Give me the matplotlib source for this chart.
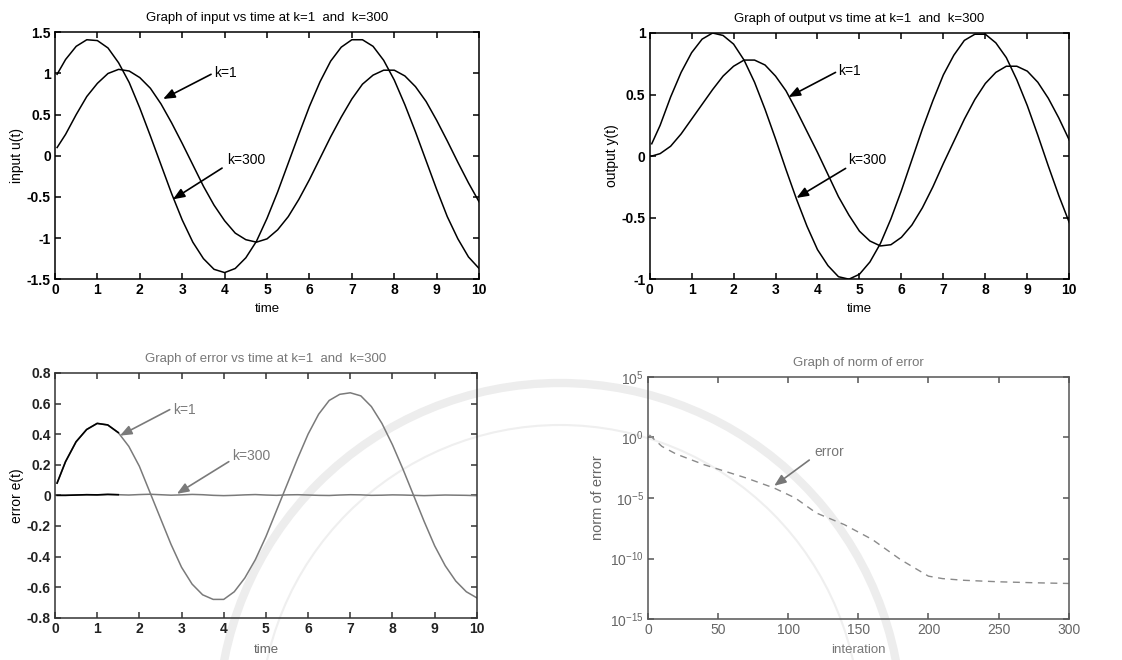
import matplotlib
matplotlib.use("Agg")
import matplotlib.pyplot as plt
from matplotlib.patches import Circle

plt.rcParams["font.family"] = ["Liberation Sans Narrow", "Liberation Sans", "DejaVu Sans"]
plt.rcParams["axes.unicode_minus"] = False
plt.rcParams["mathtext.fontset"] = "custom"
plt.rcParams["mathtext.rm"] = "Liberation Sans"

# sampled time axis (s)
TIME = [0.05, 0.25, 0.5, 0.75, 1.0, 1.25, 1.5, 1.75, 2.0, 2.25, 2.5,
        2.75, 3.0, 3.25, 3.5, 3.75, 4.0, 4.25, 4.5, 4.75, 5.0,
        5.25, 5.5, 5.75, 6.0, 6.25, 6.5, 6.75, 7.0, 7.25, 7.5,
        7.75, 8.0, 8.25, 8.5, 8.75, 9.0, 9.25, 9.5, 9.75, 10.0]

# input u(t)
U_K1 = [0.10, 0.26, 0.50, 0.72, 0.88, 1.00, 1.05, 1.03, 0.95, 0.82, 0.63,
        0.40, 0.15, -0.11, -0.37, -0.60, -0.79, -0.94, -1.02, -1.05, -1.01,
        -0.90, -0.74, -0.53, -0.29, -0.03, 0.23, 0.47, 0.69, 0.87, 0.98,
        1.04, 1.04, 0.97, 0.84, 0.66, 0.43, 0.18, -0.08, -0.33, -0.56]
U_K300 = [0.99, 1.17, 1.33, 1.41, 1.40, 1.31, 1.13, 0.89, 0.58, 0.24, -0.11,
          -0.46, -0.78, -1.05, -1.25, -1.38, -1.42, -1.37, -1.24, -1.04, -0.76,
          -0.44, -0.09, 0.26, 0.60, 0.90, 1.15, 1.32, 1.41, 1.41, 1.33,
          1.16, 0.92, 0.62, 0.29, -0.06, -0.41, -0.74, -1.01, -1.23, -1.37]

# output y(t)
Y_K1 = [0.00, 0.02, 0.08, 0.18, 0.30, 0.42, 0.54, 0.65, 0.73, 0.78, 0.78,
        0.74, 0.65, 0.53, 0.37, 0.20, 0.03, -0.15, -0.33, -0.48, -0.61,
        -0.69, -0.73, -0.72, -0.66, -0.56, -0.42, -0.25, -0.06, 0.12, 0.30,
        0.46, 0.59, 0.68, 0.73, 0.73, 0.69, 0.60, 0.47, 0.31, 0.13]
Y_K300 = [0.10, 0.25, 0.48, 0.68, 0.84, 0.95, 1.00, 0.98, 0.91, 0.78, 0.60,
          0.38, 0.14, -0.11, -0.35, -0.57, -0.76, -0.89, -0.98, -1.00, -0.96,
          -0.86, -0.71, -0.51, -0.28, -0.03, 0.22, 0.45, 0.66, 0.82, 0.94,
          0.99, 0.99, 0.92, 0.80, 0.62, 0.41, 0.17, -0.08, -0.32, -0.54]

# tracking error e(t)
E_K1 = [0.08, 0.22, 0.35, 0.43, 0.47, 0.46, 0.41, 0.32, 0.19, 0.02, -0.15,
        -0.32, -0.47, -0.58, -0.65, -0.68, -0.68, -0.63, -0.54, -0.42, -0.27,
        -0.10, 0.07, 0.24, 0.40, 0.53, 0.62, 0.66, 0.67, 0.65, 0.58,
        0.47, 0.33, 0.17, 0.00, -0.17, -0.33, -0.46, -0.56, -0.63, -0.67]
E_K300 = [0.000, 0.000, 0.002, 0.004, 0.003, 0.006, 0.004, 0.002, 0.005, 0.007, 0.004,
          0.001, 0.003, 0.006, 0.004, 0.000, -0.002, 0.000, 0.003, 0.005, 0.002,
          0.000, 0.003, 0.004, 0.002, 0.000, -0.001, 0.002, 0.004, 0.003, 0.000,
          0.001, 0.003, 0.002, 0.000, -0.002, 0.000, 0.002, 0.001, 0.000, -0.002]

# norm of error per iteration
ITER = [1, 10, 20, 40, 70, 90, 105, 120, 140, 160, 180, 190, 200, 210, 225, 250, 275, 300]
NORM = [1.6, 0.18, 0.043, 5.6e-3, 4.5e-4, 6.6e-5, 1.0e-5, 5.8e-7, 6.3e-8, 3.7e-9,
        8.3e-11, 1.7e-11, 3.5e-12, 2.2e-12, 1.6e-12, 1.2e-12, 1.0e-12, 8.7e-13]

TIME_TICKS = list(range(0, 11))


def style_axes(ax, edge, tick_color, bold=True):
    ax.set_facecolor("none")
    for sp in ax.spines.values():
        sp.set_color(edge)
        sp.set_linewidth(1.1)
    ax.tick_params(direction="in", top=True, right=True, length=4, width=1.1,
                   color=edge, labelcolor=tick_color, labelsize=10, pad=3)
    for lab in ax.get_xticklabels() + ax.get_yticklabels():
        lab.set_fontweight("bold" if bold else "normal")


def arrow(ax, tip, start, text, text_pos, color):
    ax.annotate("", xy=tip, xytext=start,
                arrowprops=dict(arrowstyle="-|>,head_length=0.7,head_width=0.28",
                                color=color, lw=1.2, shrinkA=0, shrinkB=0))
    ax.text(text_pos[0], text_pos[1], text, ha="left", va="center",
            fontsize=10, color=color)


fig = plt.figure(figsize=(11.22, 6.6), dpi=100)

# faint seal printed behind the lower plots
for r, lw, c in [(3.42, 6.0, "#ededed"), (3.0, 1.5, "#efefef")]:
    fig.add_artist(Circle((5.60, -0.65), r, transform=fig.dpi_scale_trans,
                          fill=False, ec=c, lw=lw, zorder=-5))

ax1 = fig.add_axes([0.049, 0.577, 0.378, 0.374])
ax2 = fig.add_axes([0.579, 0.577, 0.374, 0.373])
ax3 = fig.add_axes([0.049, 0.064, 0.376, 0.371])
ax4 = fig.add_axes([0.5775, 0.062, 0.375, 0.367])

# input
ax1.plot(TIME, U_K1, color="black", lw=1.1)
ax1.plot(TIME, U_K300, color="black", lw=1.1)
ax1.set_xlim(0, 10)
ax1.set_ylim(-1.5, 1.5)
ax1.set_xticks(TIME_TICKS)
ax1.set_yticks([-1.5, -1, -0.5, 0, 0.5, 1, 1.5])
ax1.set_yticklabels(["-1.5", "-1", "-0.5", "0", "0.5", "1", "1.5"])
ax1.set_title("Graph of input vs time at k=1  and  k=300", fontsize=9.5, pad=8)
ax1.set_xlabel("time", fontsize=9.5, labelpad=4)
ax1.set_ylabel("input u(t)", fontsize=10, labelpad=2)
style_axes(ax1, "black", "black")
arrow(ax1, (2.55, 0.69), (3.68, 0.99), "k=1", (3.75, 1.0), "black")
arrow(ax1, (2.78, -0.53), (3.94, -0.15), "k=300", (4.05, -0.05), "black")

# output
ax2.plot(TIME, Y_K1, color="black", lw=1.1)
ax2.plot(TIME, Y_K300, color="black", lw=1.1)
ax2.set_xlim(0, 10)
ax2.set_ylim(-1, 1)
ax2.set_xticks(TIME_TICKS)
ax2.set_yticks([-1, -0.5, 0, 0.5, 1])
ax2.set_yticklabels(["-1", "-0.5", "0", "0.5", "1"])
ax2.set_title("Graph of output vs time at k=1  and  k=300", fontsize=9.5, pad=8)
ax2.set_xlabel("time", fontsize=9.5, labelpad=4)
ax2.set_ylabel("output y(t)", fontsize=10, labelpad=2)
style_axes(ax2, "black", "black")
arrow(ax2, (3.31, 0.48), (4.43, 0.68), "k=1", (4.5, 0.69), "black")
arrow(ax2, (3.5, -0.34), (4.67, -0.10), "k=300", (4.74, -0.03), "black")

# error
grey = "#7a7a7a"
ax3.plot(TIME, E_K1, color=grey, lw=1.1)
ax3.plot(TIME, E_K300, color=grey, lw=1.1)
ax3.plot(TIME[:7], E_K1[:7], color="black", lw=1.2)
ax3.plot(TIME[:7], E_K300[:7], color="black", lw=1.2)
ax3.set_xlim(0, 10)
ax3.set_ylim(-0.8, 0.8)
ax3.set_xticks(TIME_TICKS)
ax3.set_yticks([-0.8, -0.6, -0.4, -0.2, 0, 0.2, 0.4, 0.6, 0.8])
ax3.set_yticklabels(["-0.8", "-0.6", "-0.4", "-0.2", "0", "0.2", "0.4", "0.6", "0.8"])
ax3.set_title("Graph of error vs time at k=1  and  k=300", fontsize=9.5, pad=8,
              color="#777777")
ax3.set_xlabel("time", fontsize=9.5, labelpad=6, color="#666666")
ax3.set_ylabel("error e(t)", fontsize=10, labelpad=2)
style_axes(ax3, "#333333", "#222222")
arrow(ax3, (1.54, 0.39), (2.72, 0.56), "k=1", (2.8, 0.56), grey)
arrow(ax3, (2.89, 0.01), (4.12, 0.22), "k=300", (4.19, 0.26), grey)

# norm of error
ax4.semilogy(ITER, NORM, color="#8a8a8a", lw=1.0, ls=(0, (5, 4)))
ax4.set_xlim(0, 300)
ax4.set_ylim(1e-15, 1e5)
ax4.set_xticks([0, 50, 100, 150, 200, 250, 300])
ax4.set_yticks([1e-15, 1e-10, 1e-5, 1e0, 1e5])
ax4.set_yticklabels([r"10$^{-15}$", r"10$^{-10}$", r"10$^{-5}$", r"10$^{0}$", r"10$^{5}$"])
ax4.minorticks_off()
ax4.set_title("Graph of norm of error", fontsize=9.5, pad=8, color="#777777")
ax4.set_xlabel("interation", fontsize=9.5, labelpad=5, color="#777777")
ax4.set_ylabel("norm of error", fontsize=10.5, labelpad=4, color="#666666")
style_axes(ax4, "#555555", "#666666", bold=False)
arrow(ax4, (90, 1e-4), (115, 10 ** -1.87), "error", (119, 10 ** -1.2), "#777777")

fig.savefig("out.png", dpi=100)
